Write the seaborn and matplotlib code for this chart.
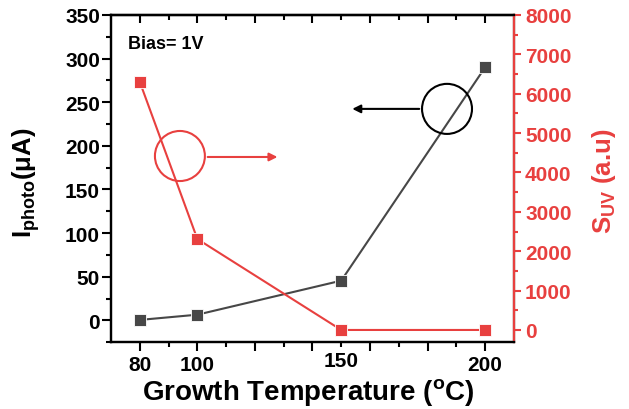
import numpy as np
import matplotlib
matplotlib.use('Agg')
import matplotlib.pyplot as plt
import seaborn as sns
from matplotlib.patches import Ellipse

sns.set_style('ticks')
plt.rcParams['font.family'] = ['Liberation Sans', 'DejaVu Sans']
plt.rcParams['font.weight'] = 'bold'
plt.rcParams['mathtext.default'] = 'regular'
plt.rcParams['text.color'] = 'black'
plt.rcParams['axes.labelcolor'] = 'black'
plt.rcParams['xtick.color'] = 'black'
plt.rcParams['ytick.color'] = 'black'

# datos
temperaturas = [80, 100, 150, 200]
i_photo = [0.5, 6.5, 45.5, 290]
s_uv = [6300, 2310, 0, 0]

rojo = '#E8403F'
gris = '#474747'

fig, ax = plt.subplots(figsize=(6.29, 4.10), dpi=100)
fig.subplots_adjust(left=0.1765, right=0.817, top=0.961, bottom=0.163)
ax2 = ax.twinx()

sns.lineplot(x=temperaturas, y=i_photo, ax=ax, color=gris, marker='s',
             markersize=9, markeredgecolor='white', markeredgewidth=0.6, linewidth=1.5)
sns.lineplot(x=temperaturas, y=s_uv, ax=ax2, color=rojo, marker='s',
             markersize=9, markeredgecolor='white', markeredgewidth=0.6, linewidth=1.5)

ax.set_xlim(70, 210)
ax.set_ylim(-25, 350)
ax2.set_ylim(-310, 8000)

ax.set_xticks([80, 100, 120, 140, 160, 180, 200])
ax.set_xticklabels(['80', '100', '', '', '', '', '200'])
ax.set_xticks([90, 110, 130, 150, 170, 190], minor=True)
ax.set_xticklabels(['', '', '', '150', '', ''], minor=True)
ax.set_yticks(np.arange(0, 351, 50))
ax.set_yticks(np.arange(-25, 351, 25), minor=True)
ax2.set_yticks(np.arange(0, 8001, 1000))
ax2.set_yticks(np.arange(0, 8001, 500), minor=True)

for a in (ax, ax2):
    for s in a.spines.values():
        s.set_linewidth(1.6)
        s.set_color('black')
ax2.spines['right'].set_color(rojo)

ax.tick_params(axis='both', which='major', labelsize=15, width=1.5, length=6.5,
               direction='out', pad=1.5, colors='black')
ax.tick_params(axis='both', which='minor', labelsize=15, width=1.5, length=3.5,
               direction='out', pad=1.5, colors='black')
ax.tick_params(axis='x', which='both', pad=3)
ax2.tick_params(axis='y', which='major', labelsize=15, width=1.5, length=5,
                colors=rojo, pad=3)
ax2.tick_params(axis='y', which='minor', width=1.5, length=3, colors=rojo)

# ticks superiores hacia dentro
sec = ax.secondary_xaxis('top')
sec.set_xticks([80, 100, 120, 140, 160, 180, 200])
sec.set_xticks([90, 110, 130, 150, 170, 190], minor=True)
sec.tick_params(which='major', direction='in', length=6, width=1.5, labeltop=False,
                colors='black')
sec.tick_params(which='minor', direction='in', length=3.5, width=1.5, labeltop=False,
                colors='black')
sec.spines['top'].set_linewidth(1.6)
sec.spines['top'].set_color('black')

ax.set_xlabel('Growth Temperature ($^{o}$C)', fontsize=20, fontweight='bold', color='black')
ax.set_ylabel('I$_{photo}$(μA)', fontsize=18.5, fontweight='bold', color='black')
ax2.set_ylabel('S$_{UV}$ (a.u)', fontsize=18.5, fontweight='bold', color=rojo)
ax.xaxis.set_label_coords(0.49, -0.102)
ax.yaxis.set_label_coords(-0.172, 0.49)
ax2.yaxis.set_label_coords(1.189, 0.495)

ax.text(0.042, 0.914, 'Bias= 1V', transform=ax.transAxes, fontsize=13,
        fontweight='bold', va='center', ha='left', color='black')

# circulos y flechas
ax.add_patch(Ellipse((0.171, 0.569), 0.124, 0.153, transform=ax.transAxes,
                     fill=False, edgecolor=rojo, linewidth=1.5, zorder=5))
ax.annotate('', xy=(0.42, 0.566), xytext=(0.233, 0.566), xycoords='axes fraction',
            arrowprops=dict(arrowstyle='-|>', color=rojo, lw=1.5, mutation_scale=12))
ax.add_patch(Ellipse((0.834, 0.713), 0.124, 0.153, transform=ax.transAxes,
                     fill=False, edgecolor='black', linewidth=1.5, zorder=5))
ax.annotate('', xy=(0.592, 0.713), xytext=(0.772, 0.713), xycoords='axes fraction',
            arrowprops=dict(arrowstyle='-|>', color='black', lw=1.5, mutation_scale=12))

fig.savefig('out.png', dpi=100)
